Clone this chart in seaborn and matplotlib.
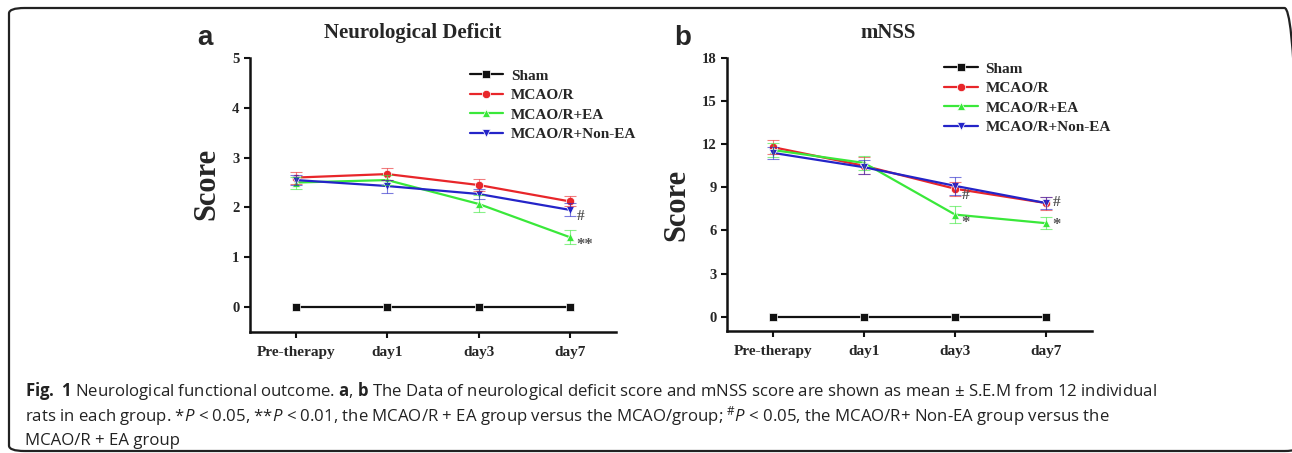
import numpy as np
import pandas as pd
import matplotlib
matplotlib.use('Agg')
import matplotlib.pyplot as plt
import seaborn as sns
from matplotlib import font_manager
from matplotlib.patches import FancyBboxPatch

# data
times = ['Pre-therapy', 'day1', 'day3', 'day7']
groups = ['Sham', 'MCAO/R', 'MCAO/R+EA', 'MCAO/R+Non-EA']

nd_sham = [0, 0, 0, 0]
nd_mcao = [2.60, 2.67, 2.45, 2.12]
nd_ea = [2.50, 2.55, 2.07, 1.40]
nd_nonea = [2.55, 2.43, 2.27, 1.95]
nd_sham_sem = [0, 0, 0, 0]
nd_mcao_sem = [0.12, 0.12, 0.12, 0.10]
nd_ea_sem = [0.12, 0.10, 0.17, 0.14]
nd_nonea_sem = [0.10, 0.13, 0.10, 0.13]

mn_sham = [0, 0, 0, 0]
mn_mcao = [11.8, 10.5, 8.9, 7.9]
mn_ea = [11.6, 10.7, 7.1, 6.5]
mn_nonea = [11.4, 10.4, 9.1, 7.9]
mn_sham_sem = [0, 0, 0, 0]
mn_mcao_sem = [0.5, 0.6, 0.5, 0.45]
mn_ea_sem = [0.5, 0.5, 0.6, 0.4]
mn_nonea_sem = [0.4, 0.5, 0.6, 0.4]

# significance marks: (time index, y, text)
nd_marks = [(3, 1.82, '#'), (3, 1.25, '**')]
mn_marks = [(2, 8.45, '#'), (2, 6.5, '*'), (3, 7.95, '#'), (3, 6.35, '*')]

colors = {'Sham': '#111111', 'MCAO/R': '#e8262a', 'MCAO/R+EA': '#3ae83a', 'MCAO/R+Non-EA': '#2424c8'}
markers = {'Sham': 's', 'MCAO/R': 'o', 'MCAO/R+EA': '^', 'MCAO/R+Non-EA': 'v'}


def make_df(means, sems):
    rows = []
    for g, m, s in zip(groups, means, sems):
        for t, v, e in zip(times, m, s):
            rows.append({'time': t, 'group': g, 'score': v, 'sem': e})
    return pd.DataFrame(rows)


nd = make_df([nd_sham, nd_mcao, nd_ea, nd_nonea], [nd_sham_sem, nd_mcao_sem, nd_ea_sem, nd_nonea_sem])
mn = make_df([mn_sham, mn_mcao, mn_ea, mn_nonea], [mn_sham_sem, mn_mcao_sem, mn_ea_sem, mn_nonea_sem])

sns.set_style('ticks')
names = {f.name for f in font_manager.fontManager.ttflist}
cap_font = 'Liberation Sans Narrow' if 'Liberation Sans Narrow' in names else 'Open Sans'
plt.rcParams['font.family'] = ['Liberation Serif', 'DejaVu Serif']
plt.rcParams['mathtext.fontset'] = 'custom'
plt.rcParams['mathtext.rm'] = cap_font
plt.rcParams['mathtext.it'] = cap_font + ':italic'
plt.rcParams['mathtext.bf'] = cap_font + ':bold'

W, H = 1292, 453
fig = plt.figure(figsize=(W / 100, H / 100), dpi=100)


def px(x0, y0, x1, y1):
    return [x0 / W, 1 - y1 / H, (x1 - x0) / W, (y1 - y0) / H]


ax1 = fig.add_axes(px(250, 58, 616, 332))
ax2 = fig.add_axes(px(727, 58, 1092, 331))


def draw(ax, df, ylim, yticks, marks, title, title_x, leg_anchor):
    sns.lineplot(data=df, x='time', y='score', hue='group', style='group',
                 markers=markers, dashes=False, palette=colors, markersize=6,
                 markeredgewidth=0.5, linewidth=1.6, ax=ax, sort=False)
    for g in groups[1:]:
        d = df[df['group'] == g]
        ax.errorbar(d['time'], d['score'], yerr=d['sem'], fmt='none',
                    ecolor=colors[g], elinewidth=0.8, capsize=4, capthick=0.8, alpha=0.6)
    for i, y, s in marks:
        ax.text(i + 0.07, y, s, fontsize=11 if s == '#' else 12, fontweight='bold',
                color='#555555', ha='left', va='center')
    ax.set_xlim(-0.5, 3.5)
    ax.set_ylim(*ylim)
    ax.set_yticks(yticks)
    ax.set_xlabel('')
    ax.set_ylabel('Score', fontsize=22, fontweight='bold')
    sns.despine(ax=ax)
    for sp in ['left', 'bottom']:
        ax.spines[sp].set_linewidth(1.8)
        ax.spines[sp].set_color('#111111')
    ax.tick_params(axis='both', width=1.5, length=4, color='#111111')
    ax.tick_params(axis='x', labelsize=11, pad=6)
    ax.tick_params(axis='y', labelsize=10.5)
    for lab in ax.get_xticklabels() + ax.get_yticklabels():
        lab.set_fontweight('bold')
    ax.legend(loc='upper left', bbox_to_anchor=leg_anchor, frameon=False,
              handlelength=2.2, handletextpad=0.5, labelspacing=0.38,
              prop={'family': 'Liberation Serif', 'weight': 'bold', 'size': 11},
              borderpad=0, borderaxespad=0)
    fig.text(title_x / W, 1 - 33 / H, title, ha='center', va='center',
             fontsize=15, fontweight='bold')


draw(ax1, nd, (-0.5, 5), [0, 1, 2, 3, 4, 5], nd_marks, 'Neurological Deficit', 413, (0.6, 0.96))
draw(ax2, mn, (-1, 18), [0, 3, 6, 9, 12, 15, 18], mn_marks, 'mNSS', 888, (0.595, 0.985))
ax1.yaxis.set_label_coords(-0.117, 0.54)
ax2.yaxis.set_label_coords(-0.137, 0.46)
for a in (ax1, ax2):
    a.yaxis.label.set_va('center')

fig.text(205 / W, 1 - 38 / H, 'a', fontsize=20, fontweight='bold', family='Liberation Sans',
         ha='center', va='center')
fig.text(683 / W, 1 - 38 / H, 'b', fontsize=20, fontweight='bold', family='Liberation Sans',
         ha='center', va='center')

cap = [
    r'$\mathbf{Fig.\ 1}$ Neurological functional outcome. $\mathbf{a}$, $\mathbf{b}$ The Data of neurological deficit score and mNSS score are shown as mean ± S.E.M from 12 individual',
    r'rats in each group. *$\mathit{P}$ < 0.05, **$\mathit{P}$ < 0.01, the MCAO/R + EA group versus the MCAO/group; $^{\#}\mathit{P}$ < 0.05, the MCAO/R+ Non-EA group versus the',
    'MCAO/R + EA group',
]
for k, line in enumerate(cap):
    fig.text(25 / W, 1 - (391 + 25 * k) / H, line, fontsize=12.1, family=cap_font,
             color='#222222', ha='left', va='center')

box = FancyBboxPatch((9 / W, 1 - 451 / H), (1300 - 9) / W, (451 - 8) / H,
                     boxstyle='round,pad=0,rounding_size=0.012', transform=fig.transFigure,
                     fill=False, edgecolor='#222222', linewidth=1.6, clip_on=False)
fig.add_artist(box)

fig.savefig('out.png', dpi=100)
